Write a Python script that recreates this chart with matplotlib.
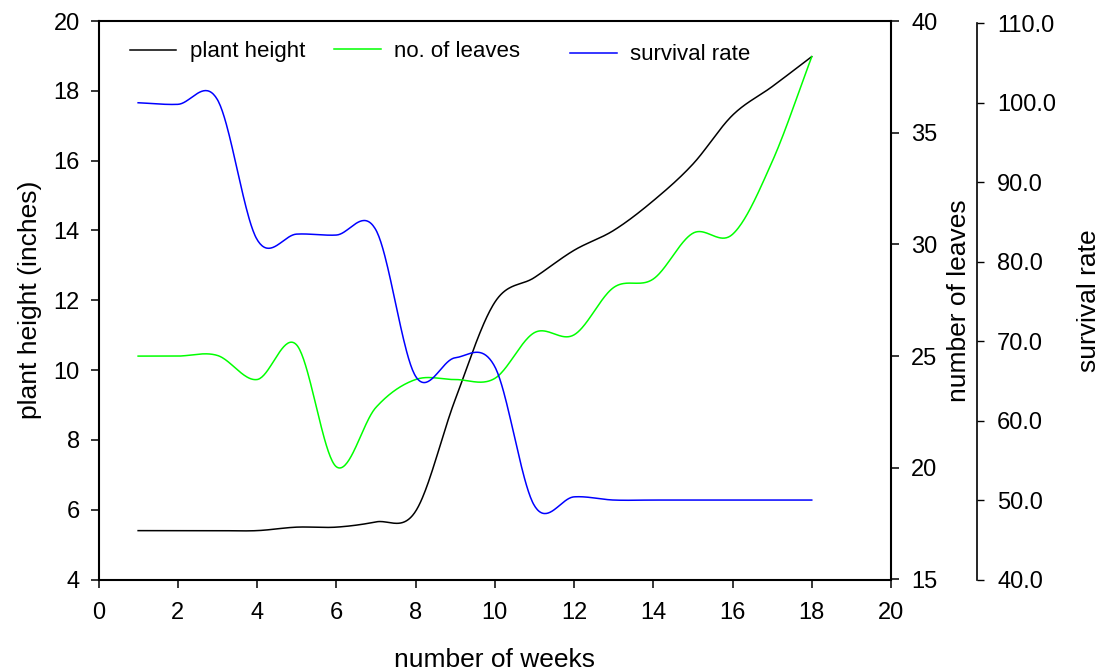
import numpy as np
import matplotlib.pyplot as plt
from matplotlib.ticker import FormatStrFormatter, MultipleLocator

plt.rcParams['font.family'] = ['Liberation Sans', 'DejaVu Sans']
plt.rcParams['font.size'] = 17
plt.rcParams['axes.labelsize'] = 19

# Data (one value per week)
weeks = [1, 2, 3, 4, 5, 6, 7, 8, 9, 10, 11, 12, 13, 14, 15, 16, 17, 18]
plant_height = [5.4, 5.4, 5.4, 5.4, 5.5, 5.5, 5.65, 5.95, 9.15, 11.94, 12.65, 13.43,
                14.0, 14.85, 15.9, 17.3, 18.12, 18.98]
leaves = [25.0, 25.0, 25.03, 23.95, 25.5, 20.05, 22.7, 23.95, 23.95, 24.0, 26.05, 25.95,
          28.07, 28.45, 30.5, 30.45, 33.7, 38.4]
survival = [100.0, 99.8, 100.4, 82.8, 83.47, 83.35, 84.0, 65.6, 67.9, 66.8, 49.3, 50.4,
            50.0, 50.0, 50.0, 50.0, 50.0, 50.0]


def smooth(x, y, n=40):
    """Catmull-Rom style cubic through the points, like the original spline curves."""
    x = np.asarray(x, float)
    y = np.asarray(y, float)
    m = np.empty_like(y)
    m[1:-1] = (y[2:] - y[:-2]) / (x[2:] - x[:-2])
    m[0] = (y[1] - y[0]) / (x[1] - x[0])
    m[-1] = (y[-1] - y[-2]) / (x[-1] - x[-2])
    xs, ys = [], []
    for i in range(len(x) - 1):
        h = x[i + 1] - x[i]
        t = np.linspace(0, 1, n, endpoint=(i == len(x) - 2))
        h00 = 2 * t**3 - 3 * t**2 + 1
        h10 = t**3 - 2 * t**2 + t
        h01 = -2 * t**3 + 3 * t**2
        h11 = t**3 - t**2
        ys.append(h00 * y[i] + h10 * h * m[i] + h01 * y[i + 1] + h11 * h * m[i + 1])
        xs.append(x[i] + t * h)
    return np.concatenate(xs), np.concatenate(ys)


W, H = 1103, 670
fig = plt.figure(figsize=(W / 100, H / 100), dpi=100)
ax = fig.add_axes([98.5 / W, 1 - 579.5 / H, 792.5 / W, 558.5 / H])
ax2 = ax.twinx()
ax3 = ax.twinx()

l1, = ax.plot(*smooth(weeks, plant_height), color='black', lw=1.1)
l2, = ax2.plot(*smooth(weeks, leaves), color='#00ff00', lw=1.1)
l3, = ax3.plot(*smooth(weeks, survival), color='#0000ff', lw=1.1)

# main axes
ax.set_xlim(0, 20)
ax.set_ylim(4, 20)
ax.xaxis.set_major_locator(MultipleLocator(2))
ax.yaxis.set_major_locator(MultipleLocator(2))
ax.spines['right'].set_visible(False)
for s in ['left', 'bottom', 'top']:
    ax.spines[s].set_linewidth(1.5)
ax.tick_params(axis='y', direction='out', length=5.8, width=1.1, pad=7.7)
ax.tick_params(axis='x', direction='out', length=5.8, width=1.1, pad=10.5)
ax.set_xlabel('number of weeks', labelpad=17)
ax.set_ylabel('plant height (inches)', labelpad=8)

# number of leaves
ax2.set_ylim(15, 40)
ax2.yaxis.set_major_locator(MultipleLocator(5))
for s in ['left', 'bottom', 'top']:
    ax2.spines[s].set_visible(False)
ax2.spines['right'].set_linewidth(1.5)
ax2.tick_params(axis='y', direction='out', length=5.8, width=1.1, pad=8.6)
ax2.set_ylabel('number of leaves', labelpad=7)

# survival rate, offset axis
ax3.set_ylim(40.15, 110.29)
ax3.set_yticks(np.arange(40, 111, 10))
ax3.yaxis.set_major_formatter(FormatStrFormatter('%.1f'))
for s in ['left', 'bottom', 'top']:
    ax3.spines[s].set_visible(False)
ax3.spines['right'].set_position(('axes', 1.109))
ax3.spines['right'].set_bounds(40, 110)
ax3.spines['right'].set_linewidth(1.2)
ax3.tick_params(axis='y', direction='out', length=5.2, width=1.0, pad=9)
ax3.set_ylabel('survival rate', labelpad=15)

# legends placed like the original
leg_kw = dict(loc='center left', frameon=False, borderpad=0, borderaxespad=0,
              handlelength=2.1, handletextpad=0.6, fontsize=16)
fig.legend([l1], ['plant height'], bbox_to_anchor=(129.5 / W, 1 - 52 / H), **leg_kw)
fig.legend([l2], ['no. of leaves'], bbox_to_anchor=(334 / W, 1 - 51.5 / H), **leg_kw)
fig.legend([l3], ['survival rate'], bbox_to_anchor=(570 / W, 1 - 55 / H), **leg_kw)

fig.savefig('out.png', dpi=100)
